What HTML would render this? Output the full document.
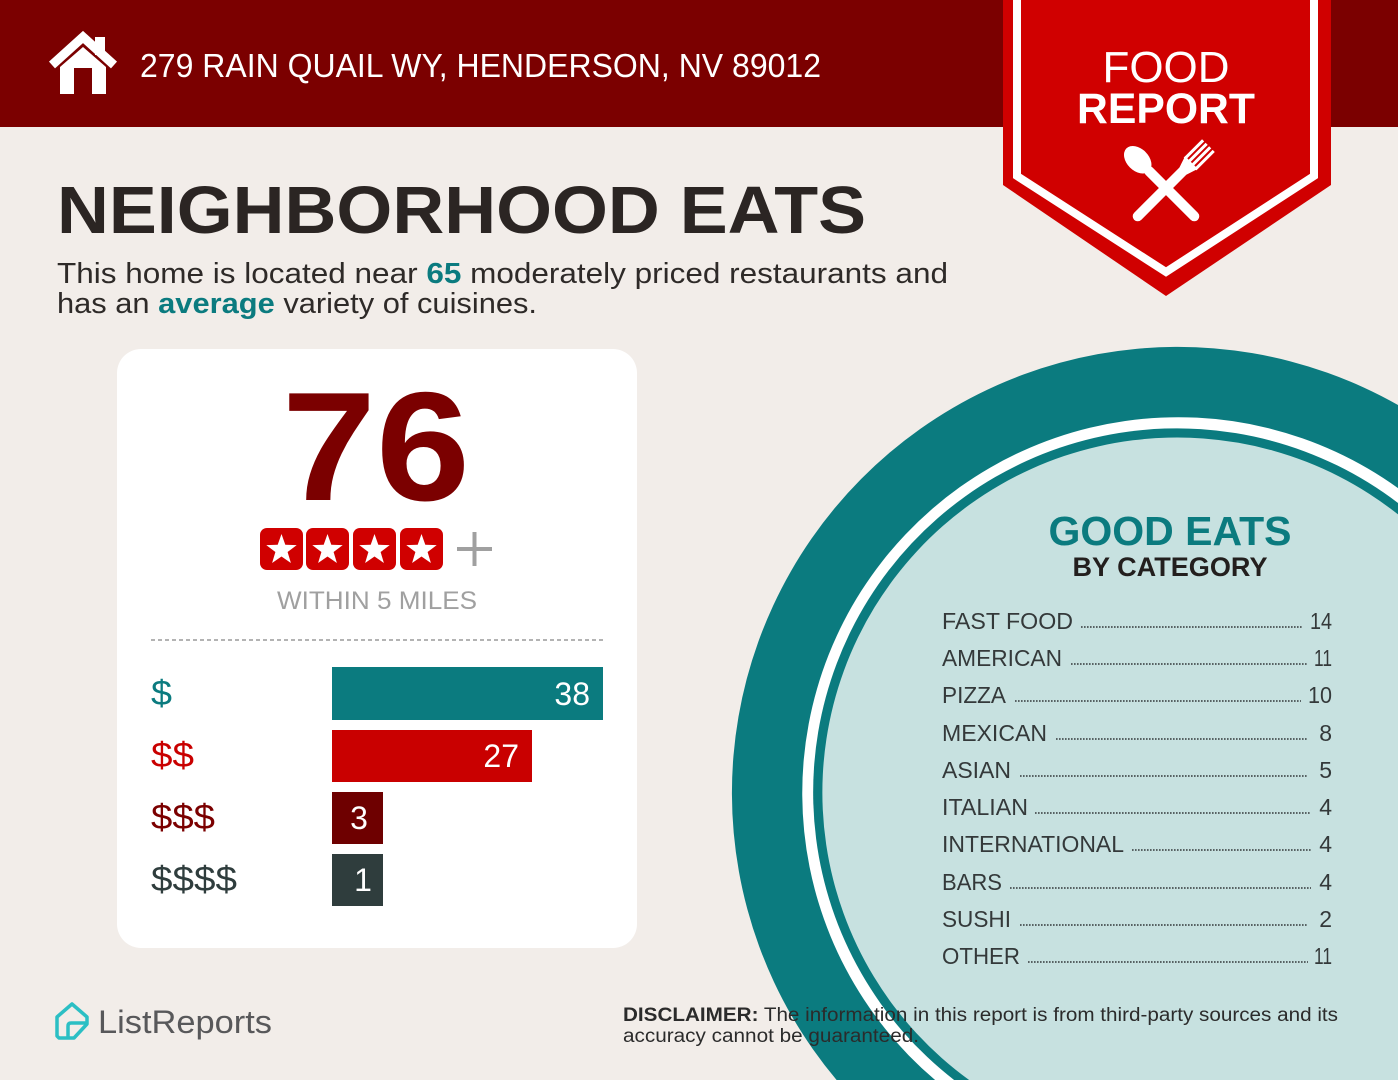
<!DOCTYPE html>
<html><head><meta charset="utf-8"><style>
html,body{margin:0;padding:0;background:#f2ede9;width:1398px;height:1080px;overflow:hidden;}
svg{display:block;}
text{font-family:"Liberation Sans",sans-serif;}
</style></head><body>
<svg width="1398" height="1080" viewBox="0 0 1398 1080" xmlns="http://www.w3.org/2000/svg">
<rect width="1398" height="1080" fill="#f2ede9"/>
<!-- header -->
<rect x="0" y="0" width="1398" height="127" fill="#7b0000"/>
<!-- house icon -->
<g fill="#fff">
<polyline points="52,65 83,37 114,65" fill="none" stroke="#fff" stroke-width="9" stroke-linejoin="miter"/>
<rect x="95" y="37" width="10" height="18"/>
<polygon points="60,67 83,47 106,67 106,94 92,94 92,68 74,68 74,94 60,94"/>
</g>
<text x="140" y="77" font-size="33" fill="#fff" textLength="681" lengthAdjust="spacingAndGlyphs">279 RAIN QUAIL WY, HENDERSON, NV 89012</text>

<!-- plate circle (clipped to frame) -->
<path d="M836.6 1080 A446 446 0 0 1 1398 405 L1398 1080 Z" fill="#0b7b7f"/>
<path d="M935.1 1080 A376 376 0 0 1 1398 488.1 L1398 1080 Z" fill="#ffffff"/>
<path d="M954.1 1080 A364 364 0 0 1 1398 503 L1398 1080 Z" fill="#0b7b7f"/>
<path d="M969.1 1080 A355 355 0 1 1 1398 514.4 L1398 1080 Z" fill="#c7e1e0"/>

<!-- banner -->
<polygon points="1003,0 1331,0 1331,185 1166,296 1003,185" fill="#d00000"/>
<polyline points="1017,0 1017,176 1166,272 1314,176 1314,0" fill="none" stroke="#fff" stroke-width="8"/>
<text x="1166" y="82" font-size="44" fill="#fff" text-anchor="middle" textLength="127" lengthAdjust="spacingAndGlyphs">FOOD</text>
<text x="1166" y="123" font-size="43" font-weight="bold" fill="#fff" text-anchor="middle" textLength="178" lengthAdjust="spacingAndGlyphs">REPORT</text>
<!-- spoon & fork -->
<g fill="#fff" stroke="#fff" stroke-linecap="round">
<g transform="translate(1166 188) rotate(-45)">
<line x1="0" y1="40" x2="0" y2="-24" stroke-width="10"/>
<ellipse cx="0" cy="-40" rx="11" ry="16" stroke="none"/>
</g>
<g transform="translate(1166 188) rotate(45)">
<line x1="0" y1="40" x2="0" y2="-26" stroke-width="10"/>
<path d="M-5 -24 L-9 -36 L9 -36 L5 -24 Z" stroke="none"/>
<rect x="-9" y="-60" width="3" height="26" stroke="none"/>
<rect x="-4" y="-60" width="3" height="26" stroke="none"/>
<rect x="1" y="-60" width="3" height="26" stroke="none"/>
<rect x="6" y="-60" width="3" height="26" stroke="none"/>
</g>
</g>

<!-- title -->
<text x="57" y="233" font-size="67" font-weight="bold" fill="#2b2523" textLength="809" lengthAdjust="spacingAndGlyphs">NEIGHBORHOOD EATS</text>
<text x="57" y="283" font-size="29" fill="#2e2a28" textLength="891" lengthAdjust="spacingAndGlyphs">This home is located near <tspan font-weight="bold" fill="#0b7b7f">65</tspan> moderately priced restaurants and</text>
<text x="57" y="313" font-size="29" fill="#2e2a28" textLength="480" lengthAdjust="spacingAndGlyphs">has an <tspan font-weight="bold" fill="#0b7b7f">average</tspan> variety of cuisines.</text>

<!-- card -->
<rect x="117" y="349" width="520" height="599" rx="24" ry="24" fill="#ffffff"/>
<text x="376" y="500" font-size="155" font-weight="bold" fill="#7b0000" text-anchor="middle" textLength="188" lengthAdjust="spacingAndGlyphs">76</text>
<g>
<rect x="260" y="528" width="43" height="42" rx="7" fill="#d00000"/>
<rect x="306" y="528" width="43" height="42" rx="7" fill="#d00000"/>
<rect x="353" y="528" width="43" height="42" rx="7" fill="#d00000"/>
<rect x="400" y="528" width="43" height="42" rx="7" fill="#d00000"/>
<g fill="#fff">
<polygon transform="translate(281.5 550)" points="0,-16 3.8,-5.2 15.2,-4.9 6.1,2 9.4,13 0,6.5 -9.4,13 -6.1,2 -15.2,-4.9 -3.8,-5.2"/>
<polygon transform="translate(327.5 550)" points="0,-16 3.8,-5.2 15.2,-4.9 6.1,2 9.4,13 0,6.5 -9.4,13 -6.1,2 -15.2,-4.9 -3.8,-5.2"/>
<polygon transform="translate(374.5 550)" points="0,-16 3.8,-5.2 15.2,-4.9 6.1,2 9.4,13 0,6.5 -9.4,13 -6.1,2 -15.2,-4.9 -3.8,-5.2"/>
<polygon transform="translate(421.5 550)" points="0,-16 3.8,-5.2 15.2,-4.9 6.1,2 9.4,13 0,6.5 -9.4,13 -6.1,2 -15.2,-4.9 -3.8,-5.2"/>
</g>
<rect x="457" y="547" width="35" height="4" fill="#a0a0a0"/>
<rect x="472.5" y="532" width="4" height="34" fill="#a0a0a0"/>
</g>
<text x="377" y="609" font-size="25" fill="#a0a0a0" text-anchor="middle" textLength="200" lengthAdjust="spacingAndGlyphs">WITHIN 5 MILES</text>
<line x1="151" y1="640" x2="603" y2="640" stroke="#9a9a9a" stroke-width="1.5" stroke-dasharray="4 3"/>

<!-- bars -->
<rect x="332" y="667" width="271" height="53" fill="#0b7b7f"/>
<rect x="332" y="730" width="200" height="52" fill="#c90000"/>
<rect x="332" y="792" width="51" height="52" fill="#6e0000"/>
<rect x="332" y="854" width="51" height="52" fill="#2f3d3d"/>
<text x="590" y="705" font-size="32" fill="#fff" text-anchor="end">38</text>
<text x="519" y="767" font-size="32" fill="#fff" text-anchor="end">27</text>
<text x="359" y="829" font-size="32" fill="#fff" text-anchor="middle">3</text>
<text x="363" y="891" font-size="32" fill="#fff" text-anchor="middle">1</text>
<text x="151" y="705" font-size="35" fill="#0b7b7f" textLength="21" lengthAdjust="spacingAndGlyphs">$</text>
<text x="151" y="767" font-size="35" fill="#c90000" textLength="43" lengthAdjust="spacingAndGlyphs">$$</text>
<text x="151" y="829" font-size="35" fill="#7b0000" textLength="64" lengthAdjust="spacingAndGlyphs">$$$</text>
<text x="151" y="891" font-size="35" fill="#2f3d3d" textLength="86" lengthAdjust="spacingAndGlyphs">$$$$</text>

<!-- good eats -->
<text x="1170" y="545" font-size="41" font-weight="bold" fill="#0b7b7f" text-anchor="middle" textLength="243" lengthAdjust="spacingAndGlyphs">GOOD EATS</text>
<text x="1170" y="576" font-size="27" font-weight="bold" fill="#231f1e" text-anchor="middle" textLength="195" lengthAdjust="spacingAndGlyphs">BY CATEGORY</text>

<g font-size="23" fill="#34393a">
<text x="942" y="629" textLength="131" lengthAdjust="spacingAndGlyphs">FAST FOOD</text>
<text x="942" y="666" textLength="120" lengthAdjust="spacingAndGlyphs">AMERICAN</text>
<text x="942" y="703" textLength="64" lengthAdjust="spacingAndGlyphs">PIZZA</text>
<text x="942" y="741" textLength="105" lengthAdjust="spacingAndGlyphs">MEXICAN</text>
<text x="942" y="778" textLength="69" lengthAdjust="spacingAndGlyphs">ASIAN</text>
<text x="942" y="815" textLength="86" lengthAdjust="spacingAndGlyphs">ITALIAN</text>
<text x="942" y="852" textLength="182" lengthAdjust="spacingAndGlyphs">INTERNATIONAL</text>
<text x="942" y="890" textLength="60" lengthAdjust="spacingAndGlyphs">BARS</text>
<text x="942" y="927" textLength="69" lengthAdjust="spacingAndGlyphs">SUSHI</text>
<text x="942" y="964" textLength="78" lengthAdjust="spacingAndGlyphs">OTHER</text>
</g>
<g font-size="23" fill="#34393a" text-anchor="end">
<text x="1332" y="629" textLength="22" lengthAdjust="spacingAndGlyphs">14</text>
<text x="1332" y="666" textLength="18" lengthAdjust="spacingAndGlyphs">11</text>
<text x="1332" y="703" textLength="24" lengthAdjust="spacingAndGlyphs">10</text>
<text x="1332" y="741">8</text>
<text x="1332" y="778">5</text>
<text x="1332" y="815">4</text>
<text x="1332" y="852">4</text>
<text x="1332" y="890">4</text>
<text x="1332" y="927">2</text>
<text x="1332" y="964" textLength="18" lengthAdjust="spacingAndGlyphs">11</text>
</g>
<g stroke="#34393a" stroke-width="1.6" stroke-dasharray="1.6 1.4">
<line x1="1081" y1="627" x2="1303" y2="627"/>
<line x1="1071" y1="664" x2="1308" y2="664"/>
<line x1="1015" y1="701" x2="1301" y2="701"/>
<line x1="1056" y1="739" x2="1308" y2="739"/>
<line x1="1020" y1="776" x2="1308" y2="776"/>
<line x1="1035" y1="813" x2="1311" y2="813"/>
<line x1="1132" y1="850" x2="1311" y2="850"/>
<line x1="1010" y1="888" x2="1311" y2="888"/>
<line x1="1020" y1="925" x2="1308" y2="925"/>
<line x1="1028" y1="962" x2="1308" y2="962"/>
</g>

<!-- footer -->
<g fill="none" stroke="#2bbfc4" stroke-width="3.5" stroke-linejoin="round" stroke-linecap="round">
<path d="M57 1036 L57 1017 L72 1004 L87 1017 L87 1024 L74 1038 L59 1038 Z"/>
<path d="M68 1037 L68 1026 Q68 1023 71 1023 L86 1023"/>
</g>
<text x="98" y="1033" font-size="32" fill="#58585a" textLength="174" lengthAdjust="spacingAndGlyphs">ListReports</text>
<text x="623" y="1021" font-size="19" fill="#2b2b2b" textLength="715" lengthAdjust="spacingAndGlyphs"><tspan font-weight="bold">DISCLAIMER:</tspan> The information in this report is from third-party sources and its</text>
<text x="623" y="1042" font-size="19" fill="#2b2b2b" textLength="296" lengthAdjust="spacingAndGlyphs">accuracy cannot be guaranteed.</text>
</svg>
</body></html>
